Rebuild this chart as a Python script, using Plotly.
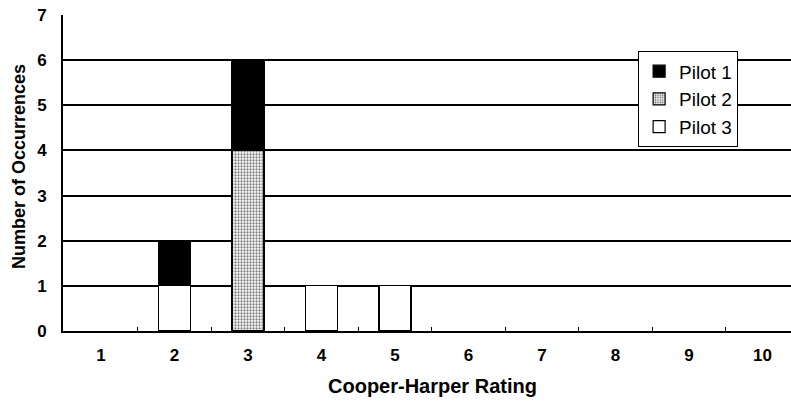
import plotly.graph_objects as go

ratings = [1, 2, 3, 4, 5, 6, 7, 8, 9, 10]
pilot1 = [0, 1, 2, 0, 0, 0, 0, 0, 0, 0]
pilot2 = [0, 0, 4, 0, 0, 0, 0, 0, 0, 0]
pilot3 = [0, 1, 0, 1, 1, 0, 0, 0, 0, 0]
y_ticks = [0, 1, 2, 3, 4, 5, 6, 7]

FONT = "Liberation Sans, Arial, sans-serif"
bar_w = 0.435


def nz(vals):
    return [v if v > 0 else None for v in vals]


fig = go.Figure()
# stacking from the bottom: Pilot 3, Pilot 2, Pilot 1
fig.add_trace(go.Bar(
    x=ratings, y=nz(pilot3), name="Pilot 3", width=bar_w,
    marker=dict(color="white", line=dict(color="black", width=1.2)),
))
fig.add_trace(go.Bar(
    x=ratings, y=nz(pilot2), name="Pilot 2", width=bar_w,
    marker=dict(color="white", line=dict(color="black", width=1.2),
                pattern=dict(shape=".", fgcolor="black", bgcolor="white",
                             size=3, solidity=0.45)),
))
fig.add_trace(go.Bar(
    x=ratings, y=nz(pilot1), name="Pilot 1", width=bar_w,
    marker=dict(color="black", line=dict(color="black", width=1.2)),
))

fig.update_layout(
    width=791, height=403,
    margin=dict(l=63, r=0, t=15, b=72),
    barmode="stack",
    paper_bgcolor="white", plot_bgcolor="white",
    font=dict(family=FONT, color="black"),
    showlegend=True,
    legend=dict(
        traceorder="reversed",
        x=0.79, y=0.885, xanchor="left", yanchor="top",
        bgcolor="white", bordercolor="black", borderwidth=1,
        font=dict(size=19, family=FONT, color="black"),
        itemwidth=30, tracegroupgap=0,
    ),
    xaxis=dict(
        range=[0.483, 10.388],
        tickvals=ratings, ticktext=[str(r) for r in ratings],
        ticks="", ticklabelstandoff=8,
        tickfont=dict(size=17, family=FONT, color="black", weight="bold"),
        showgrid=False, zeroline=False,
        showline=True, linecolor="black", linewidth=2,
        minor=dict(tickvals=[r + 0.5 for r in ratings[:-1]], ticks="inside",
                   ticklen=4, tickcolor="black", tickwidth=1, showgrid=False),
    ),
    yaxis=dict(
        range=[0, 7],
        tickvals=y_ticks,
        ticks="", ticklabelstandoff=11,
        tickfont=dict(size=17, family=FONT, color="black", weight="bold"),
        showgrid=True, gridcolor="black", gridwidth=2,
        zeroline=False,
        showline=True, linecolor="black", linewidth=2,
    ),
    annotations=[
        dict(text="<b>Cooper-Harper Rating</b>", xref="paper", yref="paper",
             x=0.508, y=-0.174, xanchor="center", yanchor="middle",
             showarrow=False, font=dict(size=20, family=FONT, color="black")),
        dict(text="<b>Number of Occurrences</b>", xref="paper", yref="paper",
             x=-0.0604, y=0.519, xanchor="center", yanchor="middle",
             textangle=-90, showarrow=False,
             font=dict(size=18, family=FONT, color="black")),
    ],
)

fig.write_html("out.html")
